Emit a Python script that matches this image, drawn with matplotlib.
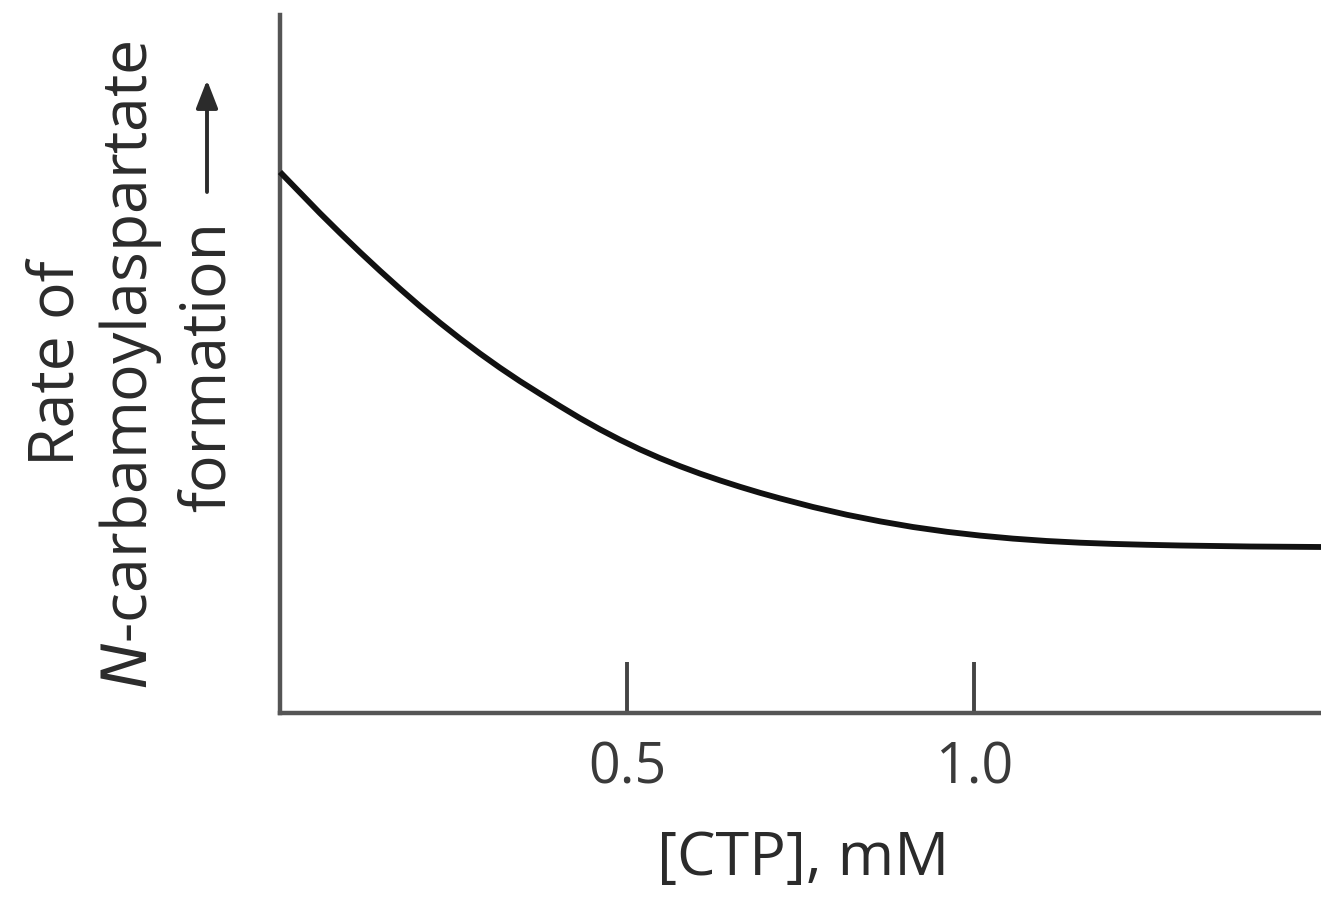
import matplotlib
matplotlib.use("Agg")
import matplotlib.pyplot as plt

# Data (arbitrary rate units)
ctp_mM = [0.0, 0.0288, 0.0576, 0.0865, 0.1153, 0.1441, 0.1729, 0.2017, 0.2305,
          0.2594, 0.2882, 0.3170, 0.3458, 0.3746, 0.4035, 0.4323, 0.4611, 0.4899,
          0.5187, 0.5476, 0.5764, 0.6052, 0.6340, 0.6628, 0.6916, 0.7205, 0.768,
          0.817, 0.865, 0.912, 0.961, 1.009, 1.056, 1.105, 1.153, 1.200, 1.249,
          1.297, 1.398, 1.5]
rate = [5.41, 5.204, 4.998, 4.80, 4.608, 4.422, 4.242, 4.068, 3.902,
        3.744, 3.594, 3.452, 3.318, 3.192, 3.068, 2.948, 2.836, 2.732,
        2.636, 2.548, 2.468, 2.394, 2.326, 2.262, 2.202, 2.146, 2.06,
        1.982, 1.916, 1.86, 1.812, 1.774, 1.744, 1.72, 1.703, 1.691, 1.682,
        1.675, 1.665, 1.66]
tick_positions = [0.5, 1.0]
tick_labels = ["0.5", "1.0"]
x_label = "[CTP], mM"
y_label_lines = ["Rate of", "-carbamoylaspartate", "formation"]

W, H = 1321, 899
fig = plt.figure(figsize=(W / 100, H / 100), dpi=100)
fig.patch.set_facecolor("white")

left, right, bottom, top = 280 / W, 1.0, 1 - 713 / H, 1 - 15 / H
ax = fig.add_axes([left, bottom, right - left, top - bottom])
ax.set_facecolor("white")

ax.plot(ctp_mM, rate, color="#111111", lw=4.2, solid_capstyle="butt",
        solid_joinstyle="round", clip_on=False, zorder=3)

ax.set_xlim(0, 1.5)
ax.set_ylim(0, 6.98)

for s in ["top", "right"]:
    ax.spines[s].set_visible(False)
for s in ["left", "bottom"]:
    ax.spines[s].set_color("#555555")
    ax.spines[s].set_linewidth(3.2)
    ax.spines[s].set_capstyle("projecting")

txt_color = "#2b2b2b"
ax.set_yticks([])
ax.set_xticks(tick_positions)
ax.set_xticklabels(tick_labels, fontfamily="Open Sans", fontsize=40, color="#3a3a3a")
ax.tick_params(axis="x", direction="in", length=37, width=2.8, color="#444444", pad=20)

# x label
fig.text(803 / W, 1 - 875 / H, x_label, ha="center", va="baseline",
         fontfamily="Open Sans", fontsize=44, color=txt_color)

# y label lines (rotated)
def ylab(s, xpx, ypx):
    fig.text(xpx / W, 1 - ypx / H, s, rotation=90, rotation_mode="anchor",
             ha="center", va="baseline", fontsize=45, color=txt_color,
             fontfamily="Open Sans")

ylab(y_label_lines[0], 73, 363)
ylab(r"$\mathit{N}$" + y_label_lines[1], 147, 365)
ylab(y_label_lines[2], 225, 366)

# arrow after "formation"
ax_arrow = fig.add_axes([0, 0, 1, 1], facecolor="none")
ax_arrow.set_axis_off()
ax_arrow.set_xlim(0, W)
ax_arrow.set_ylim(H, 0)
ax_arrow.annotate("", xy=(207, 80), xytext=(207, 192),
                  arrowprops=dict(arrowstyle="-|>,head_length=0.85,head_width=0.33",
                                  mutation_scale=20, color=txt_color, lw=2.8,
                                  shrinkA=0, shrinkB=0))

fig.savefig("out.png", dpi=100, facecolor="white")
